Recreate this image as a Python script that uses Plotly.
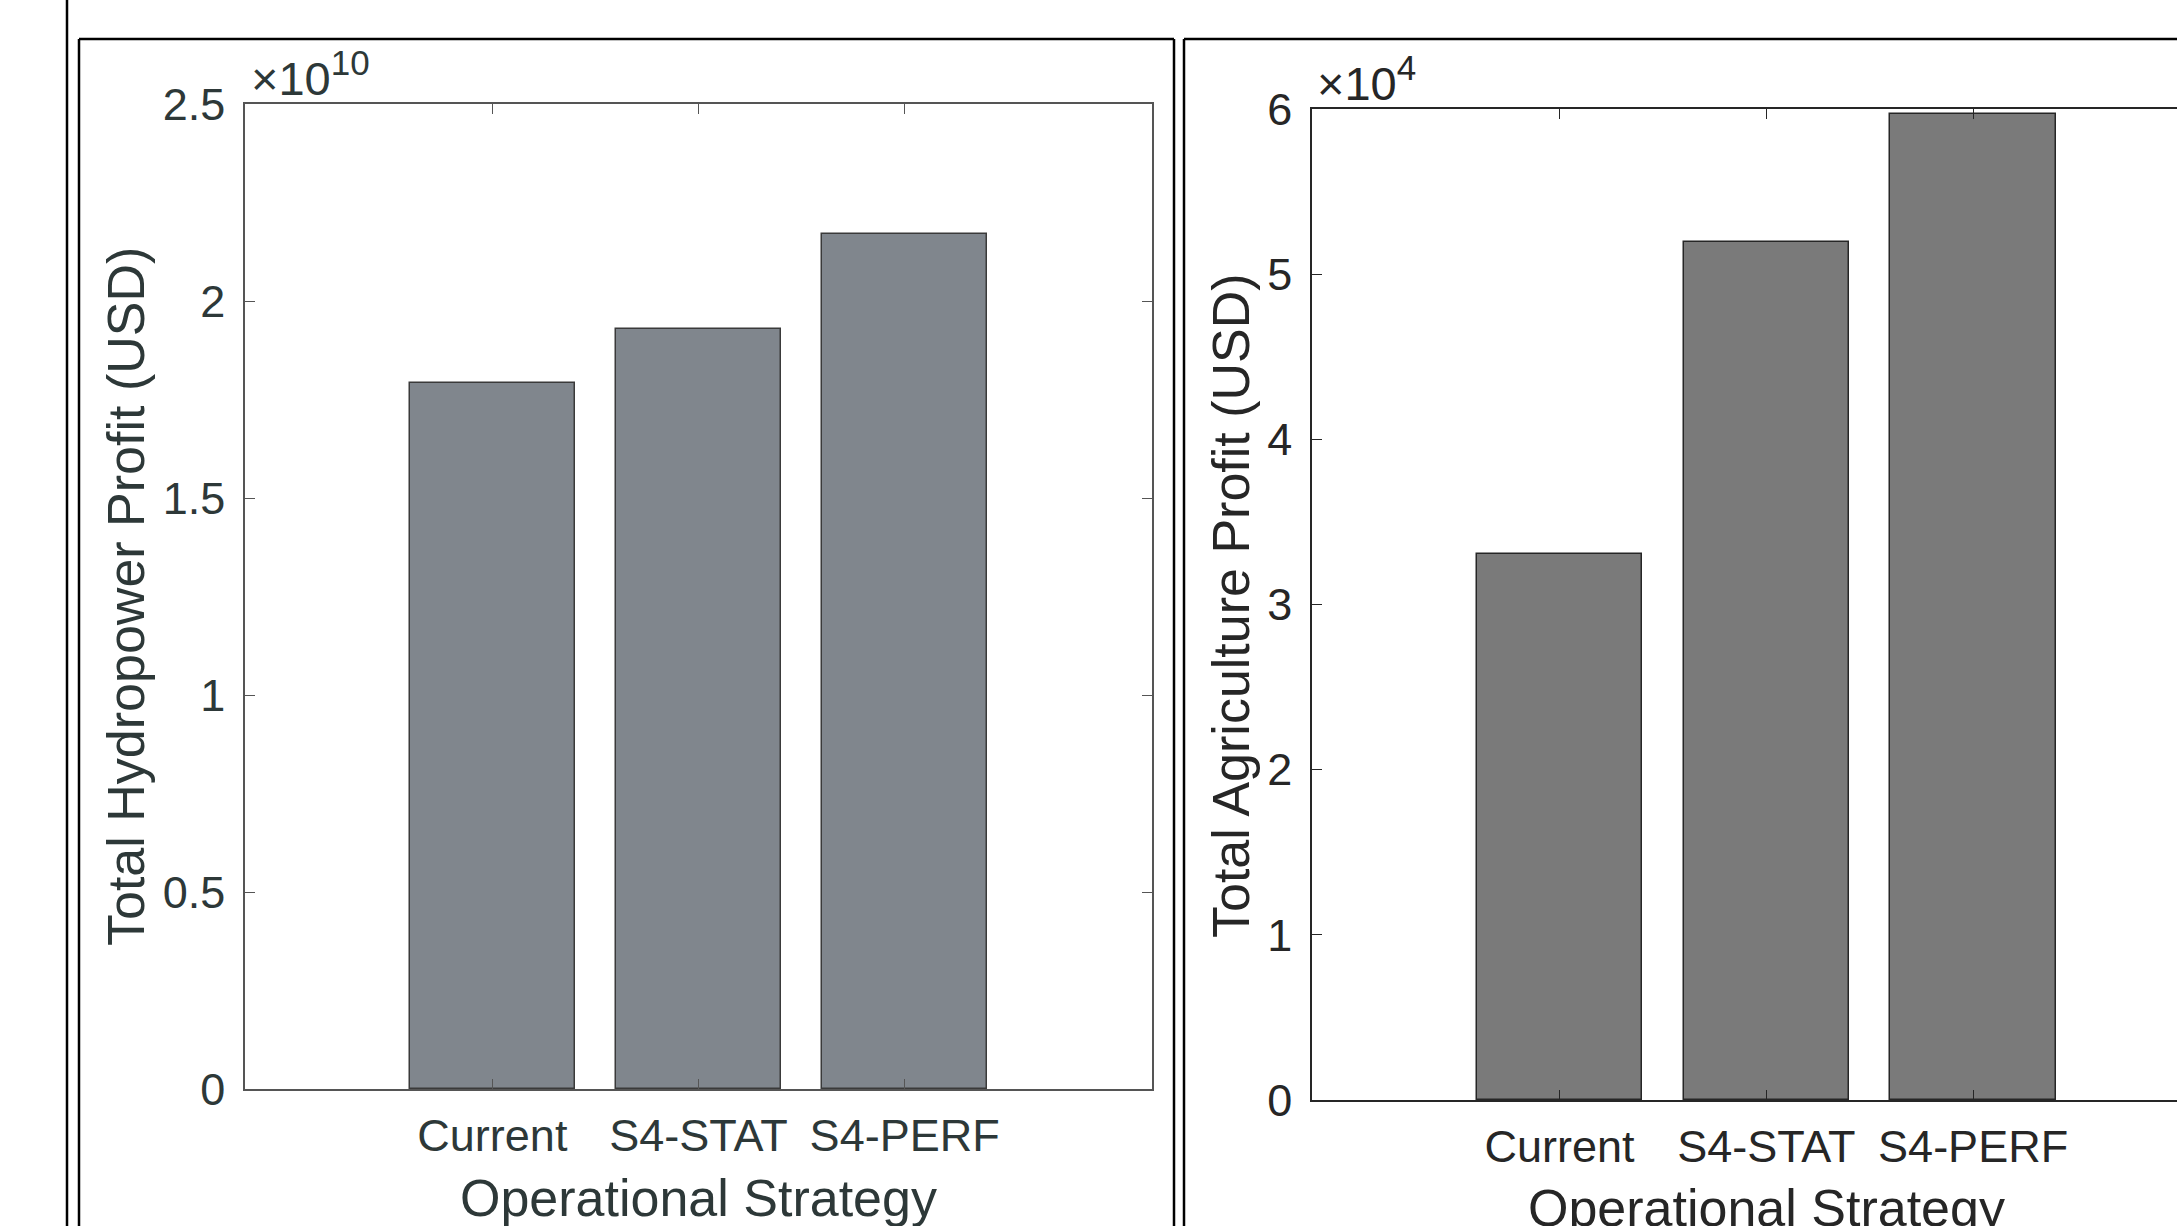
import plotly.graph_objects as go

W, H = 2177, 1226

categories = ["Current", "S4-STAT", "S4-PERF"]
x_pos = [1, 2, 3]
hydro_profit = [1.793e10, 1.930e10, 2.169e10]
agri_profit = [3.307e4, 5.194e4, 5.97e4]

hydro_tickvals = [0, 0.5e10, 1.0e10, 1.5e10, 2.0e10, 2.5e10]
hydro_ticktext = ["0", "0.5", "1", "1.5", "2", "2.5"]
agri_tickvals = [0, 1e4, 2e4, 3e4, 4e4, 5e4, 6e4]
agri_ticktext = ["0", "1", "2", "3", "4", "5", "6"]

x_title = "Operational Strategy"
hydro_title = "Total Hydropower Profit (USD)"
agri_title = "Total Agriculture Profit (USD)"

FONT = "Liberation Sans, Arial, Helvetica, sans-serif"
L_TXT = "#2d3838"
L_LINE = "#555555"
R_TXT = "#262626"
R_LINE = "#262626"


def px(x):
    return x / W


def py(y):
    return 1 - y / H


fig = go.Figure()
fig.add_trace(go.Bar(x=x_pos, y=hydro_profit, width=0.8, xaxis="x", yaxis="y",
                     marker=dict(color="#80868d", line=dict(color="#3a3a3a", width=1.5)),
                     showlegend=False))
fig.add_trace(go.Bar(x=x_pos, y=agri_profit, width=0.8, xaxis="x2", yaxis="y2",
                     marker=dict(color="#7a7a7a", line=dict(color="#262626", width=1.5)),
                     showlegend=False))

common_x = dict(tickmode="array", tickvals=x_pos, ticktext=categories,
                ticks="inside", ticklen=10, showgrid=False, zeroline=False,
                showline=True, automargin=False, mirror="ticks",
                ticklabelstandoff=6)

fig.update_layout(
    width=W, height=H, margin=dict(l=0, r=0, t=0, b=0),
    paper_bgcolor="white", plot_bgcolor="white",
    font=dict(family=FONT, size=45),
    bargap=0,
    xaxis=dict(domain=[px(245), px(1152)], range=[-0.2, 4.2], anchor="y",
               linecolor=L_LINE, tickcolor=L_LINE, linewidth=1.5,
               tickfont=dict(size=45, color=L_TXT), **common_x),
    yaxis=dict(domain=[py(1089), py(104)], range=[0, 2.5e10], anchor="x",
               tickmode="array", tickvals=hydro_tickvals, ticktext=hydro_ticktext,
               ticks="inside", ticklen=10, showgrid=False, zeroline=False,
               showline=True, mirror="ticks", linecolor=L_LINE, tickcolor=L_LINE, linewidth=1.5,
               tickfont=dict(size=45, color=L_TXT), automargin=False, ticklabelstandoff=9),
    xaxis2=dict(domain=[px(1312), 1.0], range=[-0.197, 3.986], anchor="y2",
                linecolor=R_LINE, tickcolor=R_LINE, linewidth=1.5,
                tickfont=dict(size=45, color=R_TXT), **common_x),
    yaxis2=dict(domain=[py(1100), py(109)], range=[0, 6e4], anchor="x2",
                tickmode="array", tickvals=agri_tickvals, ticktext=agri_ticktext,
                ticks="inside", ticklen=10, showgrid=False, zeroline=False,
                showline=True, mirror=False, linecolor=R_LINE, tickcolor=R_LINE, linewidth=1.5,
                tickfont=dict(size=45, color=R_TXT), automargin=False, ticklabelstandoff=9),
)

# axis titles
fig.add_annotation(x=px(698), y=py(1167), xref="paper", yref="paper", xanchor="center", yanchor="top",
                   text=x_title, showarrow=False, font=dict(size=52, color=L_TXT))
fig.add_annotation(x=px(1766), y=py(1177), xref="paper", yref="paper", xanchor="center", yanchor="top",
                   text=x_title, showarrow=False, font=dict(size=52, color=R_TXT))
fig.add_annotation(x=px(126), y=py(597), xref="paper", yref="paper", xanchor="center", yanchor="middle",
                   text=hydro_title, textangle=-90, showarrow=False, font=dict(size=52, color=L_TXT))
fig.add_annotation(x=px(1231), y=py(606), xref="paper", yref="paper", xanchor="center", yanchor="middle",
                   text=agri_title, textangle=-90, showarrow=False, font=dict(size=52, color=R_TXT))

# exponent multipliers
fig.add_annotation(x=px(249), y=py(107), xref="paper", yref="paper", xanchor="left", yanchor="bottom",
                   text="×10<sup><span style='font-size:35px'>10</span></sup>", showarrow=False,
                   font=dict(size=47, color=L_TXT))
fig.add_annotation(x=px(1315), y=py(112), xref="paper", yref="paper", xanchor="left", yanchor="bottom",
                   text="×10<sup><span style='font-size:35px'>4</span></sup>", showarrow=False,
                   font=dict(size=47, color=R_TXT))

# panel frames
frame = dict(color="black", width=2.5)
shapes = [
    dict(type="line", xref="paper", yref="paper", x0=px(67), x1=px(67), y0=1, y1=0, line=frame),
    dict(type="line", xref="paper", yref="paper", x0=px(79), x1=px(1174), y0=py(39), y1=py(39), line=frame),
    dict(type="line", xref="paper", yref="paper", x0=px(79), x1=px(79), y0=py(39), y1=0, line=frame),
    dict(type="line", xref="paper", yref="paper", x0=px(1174), x1=px(1174), y0=py(39), y1=0, line=frame),
    dict(type="line", xref="paper", yref="paper", x0=px(1184), x1=1.0, y0=py(39), y1=py(39), line=frame),
    dict(type="line", xref="paper", yref="paper", x0=px(1184), x1=px(1184), y0=py(39), y1=0, line=frame),
]
fig.update_layout(shapes=shapes)

fig.write_html("out.html")
